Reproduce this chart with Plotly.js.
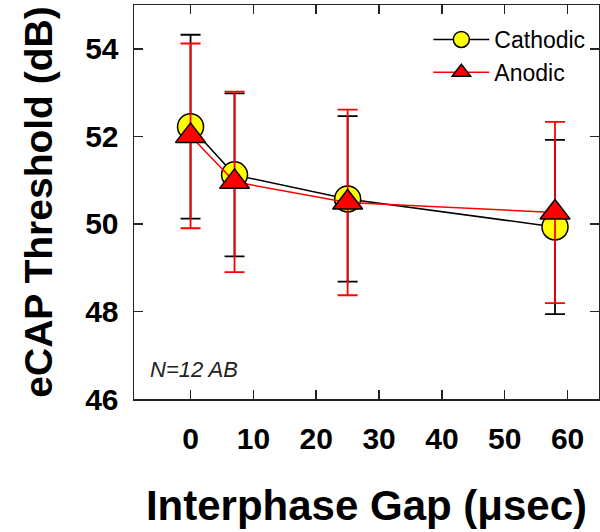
<!DOCTYPE html>
<html>
<head>
<meta charset="utf-8">
<script src="https://cdn.plot.ly/plotly-3.0.1.min.js"></script>
<style>html,body{margin:0;padding:0;background:#fff;}#chart{width:600px;height:532px;}</style>
</head>
<body>
<div id="chart"></div>
<script>
// Interphase gap (usec)
var gap = [0, 7, 25, 58];
// Cathodic mean thresholds (dB) and SD
var cathodic = [52.22, 51.12, 50.57, 49.93];
var cathodicSD = [2.10, 1.86, 1.89, 1.99];
// Anodic mean thresholds (dB) and SD
var anodic = [52.01, 50.96, 50.49, 50.26];
var anodicSD = [2.11, 2.06, 2.12, 2.07];
var xTicks = [0, 10, 20, 30, 40, 50, 60];
var yTicks = [46, 48, 50, 52, 54];

var FONT = 'Liberation Sans, Arial, Helvetica, sans-serif';

var traces = [
  {
    x: gap, y: cathodic, name: 'Cathodic', type: 'scatter', mode: 'lines+markers',
    line: {color: '#000000', width: 1.5},
    marker: {symbol: 'circle', size: 26, color: '#ffff00', line: {color: '#000000', width: 1.5}},
    error_y: {type: 'data', array: cathodicSD, visible: true, color: '#000000', thickness: 1.8, width: 10}
  },
  {
    x: gap, y: anodic, name: 'Anodic', type: 'scatter', mode: 'lines+markers',
    line: {color: '#ff0000', width: 1.5},
    marker: {symbol: 'triangle-up', size: 26, color: '#ff0000', line: {color: '#000000', width: 1.5}},
    error_y: {type: 'data', array: anodicSD, visible: true, color: '#ff0000', thickness: 1.8, width: 10}
  }
];

var axisCommon = {
  showline: true, linecolor: '#222222', linewidth: 1.5, mirror: 'ticks',
  ticks: 'inside', ticklen: 9, tickwidth: 1.5, tickcolor: '#222222',
  showgrid: false, zeroline: false,
  tickfont: {family: FONT, size: 30, color: '#000000', weight: 'bold'}
};

var layout = {
  width: 600, height: 532,
  margin: {l: 134, r: 1, t: 5, b: 133},
  paper_bgcolor: '#ffffff', plot_bgcolor: '#ffffff',
  showlegend: true,
  xaxis: Object.assign({}, axisCommon, {
    range: [-9, 65], tickvals: xTicks, ticktext: xTicks.map(String),
    ticklabelstandoff: 12,
    title: {text: 'Interphase Gap (\u03bcsec)', font: {family: FONT, size: 42, color: '#000000', weight: 'bold'}, standoff: 37}
  }),
  yaxis: Object.assign({}, axisCommon, {
    range: [46, 55], tickvals: yTicks, ticktext: yTicks.map(String),
    ticklabelstandoff: 8,
    title: {text: 'eCAP Threshold (dB)', font: {family: FONT, size: 39, color: '#000000', weight: 'bold'}, standoff: 20}
  }),
  legend: {
    x: 0.633, y: 0.967, xanchor: 'left', yanchor: 'top',
    bgcolor: 'rgba(0,0,0,0)', borderwidth: 0,
    font: {family: FONT, size: 23, color: '#000000'},
    itemwidth: 56
  },
  annotations: [{
    xref: 'paper', yref: 'paper', x: 0.03, y: 0.076, xanchor: 'left', yanchor: 'middle',
    text: 'N=12 AB', showarrow: false,
    font: {family: FONT, size: 22, color: '#222222', style: 'italic'}
  }]
};

Plotly.newPlot('chart', traces, layout, {displayModeBar: false, staticPlot: true});
</script>
</body>
</html>
